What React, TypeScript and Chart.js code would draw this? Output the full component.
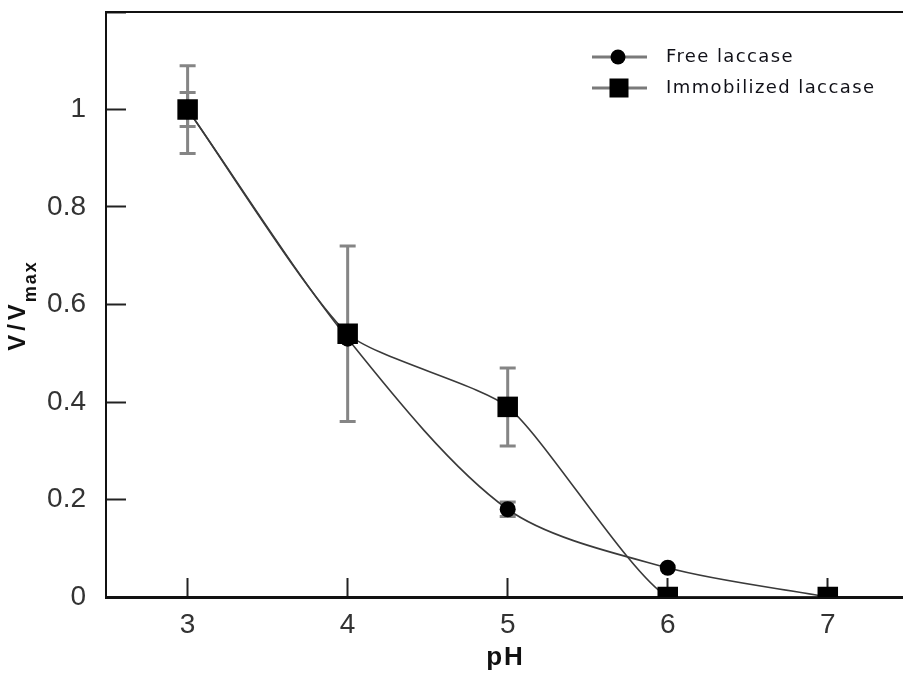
import { useEffect, useRef } from 'react';
import { Chart, registerables } from 'chart.js';

Chart.register(...registerables);

// ---- data ----
const pHValues = [3, 4, 5, 6, 7];
const freeLaccase = [1.0, 0.53, 0.18, 0.06, 0.0];
const freeErr = [0.035, 0, 0.015, 0, 0];
const immobilizedLaccase = [1.0, 0.54, 0.39, 0.0, 0.0];
const immobilizedErr = [0.09, 0.18, 0.08, 0, 0];
const xTickValues = [3, 4, 5, 6, 7];
const yTickValues = [0, 0.2, 0.4, 0.6, 0.8, 1, 1.2];
const yTickLabels = ['0', '0.2', '0.4', '0.6', '0.8', '1', ''];
const seriesNames = ['Free laccase', 'Immobilized laccase'];
const xTitle = 'pH';
const yTitleMain = 'V/V';
const yTitleSub = 'max';

const TICK_FONT = "'Liberation Sans', Arial, sans-serif";
const LEGEND_FONT = "'DejaVu Sans', sans-serif";

const errorBarsPlugin = {
  id: 'errorBars',
  beforeDatasetsDraw(chart: any) {
    const { ctx, scales } = chart;
    const x = scales.x, y = scales.y;
    ctx.save();
    ctx.strokeStyle = '#858585';
    ctx.lineWidth = 3;
    chart.data.datasets.forEach((ds: any) => {
      const errs = ds.errors as number[] | undefined;
      if (!errs) return;
      ds.data.forEach((pt: any, i: number) => {
        const e = errs[i];
        if (!e) return;
        const px = x.getPixelForValue(pt.x);
        const top = y.getPixelForValue(pt.y + e);
        const bot = y.getPixelForValue(pt.y - e);
        ctx.beginPath();
        ctx.moveTo(px, top);
        ctx.lineTo(px, bot);
        ctx.moveTo(px - 8, top);
        ctx.lineTo(px + 8, top);
        ctx.moveTo(px - 8, bot);
        ctx.lineTo(px + 8, bot);
        ctx.stroke();
      });
    });
    ctx.restore();
  },
};

const decorPlugin = {
  id: 'decor',
  afterDraw(chart: any) {
    const { ctx, chartArea } = chart;
    ctx.save();
    // top frame line
    ctx.strokeStyle = '#111';
    ctx.lineWidth = 2;
    ctx.beginPath();
    ctx.moveTo(chartArea.left - 1, chartArea.top);
    ctx.lineTo(chartArea.right, chartArea.top);
    ctx.stroke();

    // x title
    ctx.fillStyle = '#111';
    ctx.font = `bold 26px ${TICK_FONT}`;
    (ctx as any).letterSpacing = '2px';
    ctx.textAlign = 'center';
    ctx.textBaseline = 'alphabetic';
    ctx.fillText(xTitle, (chartArea.left + chartArea.right) / 2 + 1, 665);

    // y title with subscript
    ctx.save();
    ctx.translate(25, (chartArea.top + chartArea.bottom) / 2);
    ctx.rotate(-Math.PI / 2);
    ctx.textAlign = 'left';
    ctx.font = `bold 24px ${TICK_FONT}`;
    (ctx as any).letterSpacing = '4px';
    const w1 = ctx.measureText(yTitleMain).width;
    ctx.font = `bold 18px ${TICK_FONT}`;
    (ctx as any).letterSpacing = '2px';
    const w2 = ctx.measureText(yTitleSub).width;
    const start = -(w1 + w2) / 2;
    ctx.font = `bold 24px ${TICK_FONT}`;
    (ctx as any).letterSpacing = '4px';
    ctx.fillText(yTitleMain, start, 0);
    ctx.font = `bold 18px ${TICK_FONT}`;
    (ctx as any).letterSpacing = '2px';
    ctx.fillText(yTitleSub, start + w1 - 2, 11);
    ctx.restore();

    // legend
    const rows = [
      { name: seriesNames[0], y: 57, shape: 'circle' },
      { name: seriesNames[1], y: 88, shape: 'rect' },
    ];
    rows.forEach((r) => {
      ctx.strokeStyle = '#7a7a7a';
      ctx.lineWidth = 3;
      ctx.beginPath();
      ctx.moveTo(592, r.y);
      ctx.lineTo(647, r.y);
      ctx.stroke();
      ctx.fillStyle = '#000';
      if (r.shape === 'circle') {
        ctx.beginPath();
        ctx.arc(618, r.y, 7.5, 0, Math.PI * 2);
        ctx.fill();
      } else {
        ctx.fillRect(609.5, r.y - 9.5, 19, 19);
      }
      ctx.fillStyle = '#111118';
      ctx.font = `18px ${LEGEND_FONT}`;
      (ctx as any).letterSpacing = '1.4px';
      ctx.textAlign = 'left';
      ctx.textBaseline = 'middle';
      ctx.fillText(r.name, 666, r.y);
    });
    ctx.restore();
  },
};

export default function App() {
  const canvasRef = useRef<HTMLCanvasElement | null>(null);

  useEffect(() => {
    const canvas = canvasRef.current;
    if (!canvas) return;
    const chart = new Chart(canvas, {
      type: 'line',
      data: {
        datasets: [
          {
            label: seriesNames[0],
            data: pHValues.map((x, i) => ({ x, y: freeLaccase[i] })),
            errors: freeErr,
            borderColor: '#3a3a3a',
            borderWidth: 1.6,
            backgroundColor: '#000',
            pointBackgroundColor: '#000',
            pointBorderColor: '#000',
            pointStyle: 'circle',
            pointRadius: 8,
            pointBorderWidth: 0,
            tension: 0.3,
            order: 2,
          } as any,
          {
            label: seriesNames[1],
            data: pHValues.map((x, i) => ({ x, y: immobilizedLaccase[i] })),
            errors: immobilizedErr,
            borderColor: '#3a3a3a',
            borderWidth: 1.6,
            backgroundColor: '#000',
            pointBackgroundColor: '#000',
            pointBorderColor: '#000',
            pointStyle: 'rect',
            pointRadius: 14.5,
            pointBorderWidth: 0,
            tension: 0.2,
            order: 1,
          } as any,
        ],
      },
      options: {
        animation: false,
        responsive: false,
        devicePixelRatio: 1,
        layout: { autoPadding: false, padding: { top: 12, right: 0, left: 0, bottom: 0 } },
        plugins: {
          legend: { display: false },
          tooltip: { enabled: false },
        },
        scales: {
          x: {
            type: 'linear',
            min: 2.49,
            max: 7.47,
            afterBuildTicks: (scale: any) => {
              scale.ticks = xTickValues.map((v) => ({ value: v }));
            },
            afterFit: (scale: any) => {
              scale.height = 79;
              scale.paddingLeft = 0;
              scale.paddingRight = 0;
              scale.paddingTop = 0;
              scale.paddingBottom = 0;
            },
            ticks: {
              font: { family: TICK_FONT, size: 28 },
              color: '#333',
              padding: 30,
              maxRotation: 0,
              callback: (v: any) => String(v),
            },
            grid: {
              drawOnChartArea: false,
              drawTicks: true,
              tickLength: -19,
              tickColor: '#222',
              tickWidth: 2,
            },
            border: { display: true, color: '#111', width: 3 },
          },
          y: {
            type: 'linear',
            min: 0,
            max: 1.2,
            afterBuildTicks: (scale: any) => {
              scale.ticks = yTickValues.map((v) => ({ value: v }));
            },
            afterFit: (scale: any) => {
              scale.width = 106;
              scale.paddingLeft = 0;
              scale.paddingRight = 0;
              scale.paddingTop = 0;
              scale.paddingBottom = 0;
            },
            ticks: {
              font: { family: TICK_FONT, size: 28 },
              color: '#333',
              padding: 40,
              callback: (_v: any, i: number) => yTickLabels[i],
            },
            grid: {
              drawOnChartArea: false,
              drawTicks: true,
              tickLength: -20,
              tickColor: '#222',
              tickWidth: 2,
            },
            border: { display: true, color: '#111', width: 2 },
          },
        },
      },
      plugins: [errorBarsPlugin, decorPlugin],
    } as any);
    return () => chart.destroy();
  }, []);

  return (
    <div style={{ position: 'absolute', left: 0, top: 0, width: 903, height: 676, background: '#fff' }}>
      <canvas ref={canvasRef} width={903} height={676} style={{ display: 'block' }} />
    </div>
  );
}
